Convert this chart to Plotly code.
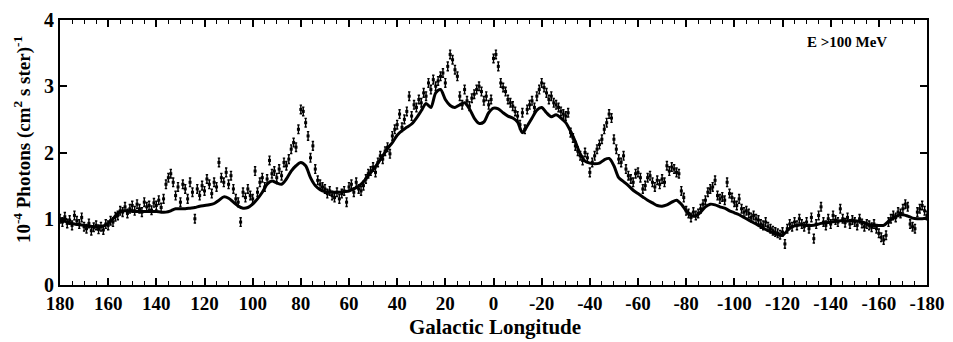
import numpy as np
import plotly.graph_objects as go

# ---------------- data ----------------
# Galactic longitude of the measured points (1 deg steps, 180 -> -180)
data_lon = list(range(180, -181, -1))
data_val = [
    1.00, 0.95, 1.03, 0.93, 0.98, 0.90, 1.05, 0.97, 0.92, 1.02,   # 180..171
    0.88, 0.85, 0.93, 0.82, 0.87, 0.90, 0.84, 0.88, 0.83, 0.92,   # 170..161
    0.90, 0.97, 0.95, 1.03, 1.05, 1.12, 1.10, 1.18, 1.08, 1.15,   # 160..151
    1.20, 1.12, 1.22, 1.15, 1.10, 1.25, 1.18, 1.20, 1.13, 1.24,   # 150..141
    1.20, 1.28, 1.17, 1.30, 1.52, 1.62, 1.68, 1.55, 1.35, 1.48,   # 140..131
    1.25, 1.52, 1.45, 1.30, 1.55, 1.40, 1.00, 1.45, 1.35, 1.50,   # 130..121
    1.42, 1.60, 1.52, 1.38, 1.55, 1.48, 1.85, 1.62, 1.55, 1.70,   # 120..111
    1.52, 1.65, 1.45, 1.30, 1.25, 0.95, 1.40, 1.32, 1.45, 1.35,   # 110..101
    1.30, 1.72, 1.40, 1.55, 1.62, 1.48, 1.60, 1.88, 1.68, 1.72,   # 100..91
    1.62, 1.75, 1.65, 1.85, 1.80, 1.90, 2.05, 2.15, 2.08, 2.35,   # 90..81
    2.65, 2.62, 2.45, 2.25, 1.92, 2.10, 1.75, 1.58, 1.52, 1.48,   # 80..71
    1.45, 1.38, 1.42, 1.35, 1.32, 1.40, 1.30, 1.38, 1.42, 1.25,   # 70..61
    1.48, 1.52, 1.40, 1.55, 1.45, 1.42, 1.50, 1.60, 1.68, 1.72,   # 60..51
    1.78, 1.70, 1.85, 1.95, 1.90, 2.02, 2.08, 1.98, 2.25, 2.35,   # 50..41
    2.42, 2.58, 2.38, 2.50, 2.62, 2.85, 2.55, 2.72, 2.68, 2.80,   # 40..31
    2.75, 2.90, 2.85, 3.05, 2.95, 3.10, 3.00, 3.08, 3.15, 3.20,   # 30..21
    3.05, 3.30, 3.48, 3.40, 3.25, 3.15, 2.85, 2.72, 2.95, 2.78,   # 20..11
    2.70, 2.82, 2.88, 2.95, 3.00, 2.92, 2.78, 2.85, 2.72, 2.80,   # 10..1
    3.42, 3.48, 3.30, 3.05, 2.98, 2.92, 2.80, 2.75, 2.70, 2.62,   # 0..-9
    2.55, 2.42, 2.60, 2.35, 2.65, 2.72, 2.78, 2.68, 2.85, 2.95,   # -10..-19
    3.05, 2.98, 2.90, 2.80, 2.85, 2.75, 2.72, 2.68, 2.62, 2.58,   # -20..-29
    2.55, 2.60, 2.30, 2.22, 2.10, 2.02, 1.95, 1.88, 2.00, 1.92,   # -30..-39
    1.70, 1.85, 1.95, 2.05, 2.12, 2.20, 2.35, 2.45, 2.58, 2.52,   # -40..-49
    2.20, 2.05, 1.90, 1.85, 1.95, 1.75, 1.65, 1.60, 1.55, 1.68,   # -50..-59
    1.70, 1.62, 1.45, 1.50, 1.62, 1.65, 1.55, 1.48, 1.58, 1.52,   # -60..-69
    1.60, 1.55, 1.80, 1.72, 1.78, 1.75, 1.70, 1.68, 1.42, 1.32,   # -70..-79
    1.12, 1.08, 1.02, 1.10, 1.05, 1.08, 1.15, 1.22, 1.28, 1.40,   # -80..-89
    1.45, 1.48, 1.58, 1.35, 1.30, 1.33, 1.28, 1.55, 1.38, 1.32,   # -90..-99
    1.25, 1.20, 1.30, 1.15, 1.10, 1.12, 1.08, 1.02, 1.05, 1.00,   # -100..-109
    0.98, 0.92, 0.90, 0.95, 0.88, 0.85, 0.82, 0.80, 0.78, 0.76,   # -110..-119
    0.80, 0.62, 0.85, 0.92, 0.88, 0.95, 0.90, 1.00, 0.92, 0.88,   # -120..-129
    0.95, 0.85, 1.02, 0.70, 0.92, 1.05, 1.18, 0.95, 0.90, 1.00,   # -130..-139
    0.92, 1.05, 0.98, 0.95, 1.15, 1.00, 0.94, 1.02, 0.92, 0.98,   # -140..-149
    0.95, 0.90, 1.00, 0.93, 0.88, 0.92, 0.90, 0.87, 0.92, 0.85,   # -150..-159
    0.78, 0.72, 0.68, 0.75, 0.95, 1.00, 1.05, 1.02, 1.10, 1.08,   # -160..-169
    1.15, 1.22, 1.18, 0.92, 0.88, 0.85, 1.10, 1.15, 1.20, 1.12,   # -170..-179
    1.05,                                                         # -180
]
data_err = [0.065] * len(data_val)

# model prediction (2 deg steps, 180 -> -180)
model_lon = list(range(180, -181, -2))
model_val = [
    0.97, 0.96, 0.94, 0.92, 0.91, 0.90, 0.89, 0.88, 0.88, 0.89,   # 180..162
    0.93, 1.00, 1.08, 1.12, 1.12, 1.11, 1.11, 1.11, 1.11, 1.11,   # 160..142
    1.11, 1.10, 1.10, 1.12, 1.15, 1.15, 1.15, 1.16, 1.17, 1.19,   # 140..122
    1.20, 1.21, 1.23, 1.28, 1.33, 1.31, 1.25, 1.19, 1.16, 1.17,   # 120..102
    1.22, 1.30, 1.40, 1.52, 1.57, 1.54, 1.52, 1.60, 1.72, 1.80,   # 100..82
    1.85, 1.80, 1.62, 1.50, 1.44, 1.41, 1.40, 1.40, 1.40, 1.41,   # 80..62
    1.42, 1.45, 1.49, 1.56, 1.65, 1.74, 1.84, 1.95, 2.06, 2.15,   # 60..42
    2.26, 2.33, 2.38, 2.43, 2.52, 2.63, 2.74, 2.68, 2.90, 2.95,   # 40..22
    2.80, 2.71, 2.68, 2.72, 2.75, 2.66, 2.52, 2.44, 2.46, 2.60,   # 20..2
    2.67, 2.66, 2.60, 2.55, 2.52, 2.46, 2.30, 2.40, 2.52, 2.64,   # 0..-18
    2.68, 2.60, 2.54, 2.57, 2.52, 2.45, 2.32, 2.16, 1.98, 1.87,   # -20..-38
    1.84, 1.83, 1.84, 1.89, 1.91, 1.80, 1.62, 1.56, 1.50, 1.43,   # -40..-58
    1.38, 1.33, 1.28, 1.24, 1.20, 1.19, 1.21, 1.25, 1.28, 1.22,   # -60..-78
    1.12, 1.05, 1.04, 1.10, 1.18, 1.22, 1.21, 1.18, 1.16, 1.12,   # -80..-98
    1.09, 1.06, 1.02, 0.98, 0.94, 0.90, 0.86, 0.82, 0.79, 0.76,   # -100..-118
    0.75, 0.82, 0.88, 0.90, 0.91, 0.90, 0.90, 0.91, 0.93, 0.94,   # -120..-138
    0.95, 0.96, 0.97, 0.97, 0.97, 0.97, 0.96, 0.94, 0.91, 0.90,   # -140..-158
    0.90, 0.90, 0.96, 1.01, 1.05, 1.06, 1.04, 1.01, 1.00, 1.00,   # -160..-178
    1.01,                                                         # -180
]

x_ticks = list(range(180, -181, -20))
x_tick_text = [str(v) for v in x_ticks]
y_ticks = [0, 1, 2, 3, 4]

FONT = "Liberation Serif"

fig = go.Figure()
fig.add_trace(go.Scatter(
    x=data_lon, y=data_val, mode="markers",
    marker=dict(color="black", size=3, symbol="square"),
    error_y=dict(type="data", array=data_err, color="black", thickness=1.4, width=1.2),
    showlegend=False, hoverinfo="skip",
))
fig.add_trace(go.Scatter(
    x=model_lon, y=model_val, mode="lines",
    line=dict(color="black", width=3, shape="spline", smoothing=0.8),
    showlegend=False, hoverinfo="skip",
))

fig.update_layout(
    width=953, height=342,
    margin=dict(l=60, r=26, t=9, b=57),
    paper_bgcolor="white", plot_bgcolor="white",
    font=dict(family=FONT, color="black", size=19, weight="bold"),
    xaxis=dict(
        range=[180, -180], tickvals=x_ticks, ticktext=x_tick_text,
        ticks="inside", ticklen=7, tickwidth=1.5, tickcolor="black",
        showline=True, linecolor="black", linewidth=2, mirror="ticks",
        showgrid=False, zeroline=False,
        minor=dict(dtick=5, tick0=0, ticks="inside", ticklen=4, tickwidth=1.2, tickcolor="black"),
        tickfont=dict(family=FONT, size=19, weight="bold"),
    ),
    yaxis=dict(
        range=[0, 4], tickvals=y_ticks,
        ticks="inside", ticklen=7, tickwidth=1.5, tickcolor="black",
        showline=True, linecolor="black", linewidth=2, mirror="ticks",
        showgrid=False, zeroline=False,
        tickfont=dict(family=FONT, size=20, weight="bold"),
    ),
    annotations=[
        dict(text="10<sup>-4</sup> Photons (cm<sup>2</sup> s ster)<sup>-1</sup>",
             xref="paper", yref="paper", x=-0.044, y=0.55, xanchor="center", yanchor="middle",
             textangle=-90, showarrow=False, font=dict(family=FONT, size=19, weight="bold")),
        dict(text="Galactic Longitude",
             xref="paper", yref="paper", x=0.502, y=-0.158, xanchor="center", yanchor="middle",
             showarrow=False, font=dict(family=FONT, size=21, weight="bold")),
        dict(text="E >100 MeV", xref="paper", yref="paper", x=0.908, y=0.917,
             xanchor="center", yanchor="middle", showarrow=False,
             font=dict(family=FONT, size=15, weight="bold")),
    ],
)

fig.write_html("out.html")
